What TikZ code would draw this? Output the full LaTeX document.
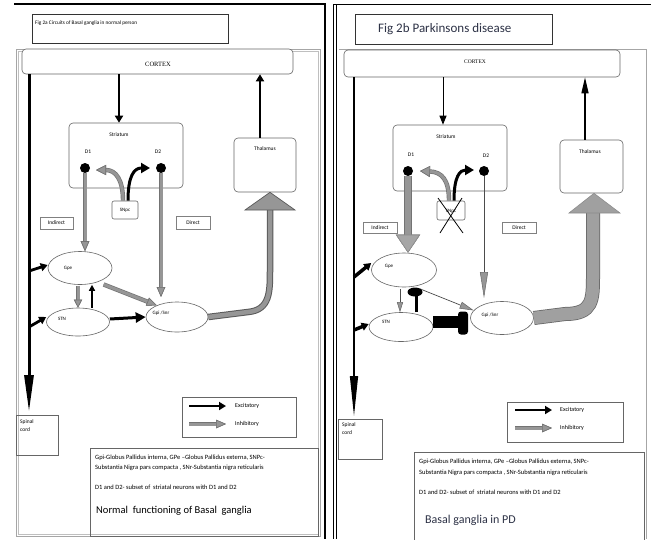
\documentclass[tikz,border=0pt]{standalone}
\usepackage{fontspec}
\setmainfont{Carlito}
\newfontfamily\serifc{Liberation Serif}
\usetikzlibrary{arrows.meta,shapes.geometric}
\definecolor{pdtext}{RGB}{45,50,70}
\definecolor{inhg}{RGB}{150,150,150}
\newcommand\fsz[1]{\fontsize{#1}{#1}\selectfont}
\begin{document}
\begin{tikzpicture}[x=1pt,y=-1pt,
  box/.style={draw=black!60, line width=0.6pt, rounded corners=4pt, inner sep=0pt},
  sbox/.style={draw=black!70, line width=0.6pt, inner sep=0pt},
  ell/.style={draw=black!60, ellipse, line width=0.6pt, inner sep=0pt},
  lab/.style={font=\fsz{5.5}, inner sep=0pt},
  dot/.style={circle, fill=black, minimum size=10pt, inner sep=0pt},
  exc/.style={black, line width=2.5pt, -{Triangle[length=7pt,width=8pt]}},
  inh/.style={inhg, line width=3pt, preaction={draw=black!55, line width=4.4pt},
     -{Triangle[length=10pt,width=8.5pt,color=black!55,fill=inhg,line width=0.6pt]}},
  thin/.style={black!70, line width=0.7pt, -{Triangle[length=26pt,width=8pt,color=black!60,fill=inhg,line width=0.5pt]}},
  txt/.style={font=\fsz{6.5}, anchor=west, inner sep=0pt}
]
\useasboundingbox (0,0) rectangle (651,539);
\fill[white] (0,0) rectangle (651,539);

% ================= LEFT PANEL =================
\draw[black, line width=2pt] (14,4) -- (326,4);
\draw[black, line width=2.5pt] (325,3) -- (325,539);
\draw[gray!70, line width=0.6pt] (16,49) rectangle (320,536);
\draw[gray!50, line width=0.5pt] (18.5,51) rectangle (318,534);
\node[sbox, minimum width=196pt, minimum height=29pt, draw=black!80, line width=0.9pt] (titleA) at (130,28.5) {};
\node[lab, anchor=west, font=\fsz{5.3}] (titleAt) at (35,23) {Fig 2a Circuits of Basal ganglia in normal person};

\node[box, fill=white, minimum width=271pt, minimum height=25pt] (cortexA) at (157.5,61.5) {};
\node[font=\serifc\fsz{6.5}, inner sep=0pt] (cortexAt) at (158,64) {CORTEX};

\node[box, minimum width=114pt, minimum height=65pt] (striatA) at (126,155.5) {};
\node[lab] (striatAt) at (119,135) {Striatum};
\node[box, minimum width=62pt, minimum height=54pt] (thalA) at (265,165) {};
\node[lab] (thalAt) at (265,149) {Thalamus};
\node[box, rounded corners=2pt, fill=white, minimum width=26pt, minimum height=18pt] (snpcA) at (125,210) {};
\node[lab, font=\fsz{5}] (snpcAt) at (125,210.5) {SNpc};
\node[sbox, draw=black!50, minimum width=33pt, minimum height=12pt, font=\fsz{5.5}] (indA) at (56.5,223) {Indirect};
\node[sbox, draw=black!50, minimum width=34pt, minimum height=13pt, font=\fsz{5.5}] (dirA) at (193,223) {Direct};

\node[dot] (d1A) at (85,168) {};
\node[dot] (d2A) at (161,168) {};
\node[lab] (d1At) at (88,152) {D1};
\node[lab] (d2At) at (158,152) {D2};

\node[ell, minimum width=64pt, minimum height=33pt] (gpeA) at (80,268) {};
\node[lab, font=\fsz{5}] (gpeAt) at (68,268) {Gpe};
\node[ell, minimum width=63pt, minimum height=28pt] (stnA) at (78,322) {};
\node[lab, font=\fsz{5}] (stnAt) at (62,319) {STN};
\node[ell, minimum width=62pt, minimum height=30pt] (gpiA) at (177,317) {};
\node[lab, font=\fsz{5}] (gpiAt) at (161,313) {Gpi /Snr};

\node[sbox, draw=black!60, minimum width=42pt, minimum height=40pt] (spinA) at (37,435) {};
\node[lab, anchor=north west, align=left, font=\fsz{5.5}] (spinAt) at (20,419) {Spinal\\[3pt]cord};

\node[sbox, draw=black!60, minimum width=114pt, minimum height=40pt] (legA) at (239,417) {};
\node[sbox, draw=black!60, minimum width=228pt, minimum height=88pt] (txtA) at (204,492) {};

% connectors left
\coordinate (spinTopA) at (29,412);
\draw[black, line width=3pt, -{Triangle[length=37pt,width=9pt]}] (cortexA.south -| 29,0) -- (spinTopA);
\draw[exc] (cortexA.south -| 119,0) -- (striatA.north -| 119,0);
\draw[exc] (thalA.north -| 260,0) -- (cortexA.south -| 260,0);
\draw[exc, line width=2.8pt] (gpeA.west -| 29,0) ++(0,3) -- ([yshift=3pt]gpeA.west);
\draw[exc, line width=2.8pt] (stnA.west -| 29,0) ++(0,5) -- ([yshift=5pt]stnA.west);
\draw[inh] (d1A.south) -- (gpeA.north -| d1A);
\draw[inh] (d2A.south) -- (161,297);
\draw[inh, -{Triangle[length=8pt,width=8pt,color=black!55,fill=inhg,line width=0.6pt]}] (gpeA.south -| 78,0) ++(0,1) -- (stnA.north -| 78,0);
\draw[black, line width=2pt, -{Triangle[length=6pt,width=6pt]}] (stnA.north -| 92,0) -- (gpeA.south -| 92,0);
\draw[inh] (gpeA.-30) ++(2,4) -- (gpiA.150);
\draw[exc, line width=3pt, -{Triangle[length=10pt,width=10pt]}] (stnA.east) ++(0,-3) -- (gpiA.west);
\draw[inh, -{Triangle[length=10pt,width=10pt,color=black!55,fill=inhg,line width=0.6pt]}] (snpcA.north) ++(-2,0) .. controls (123,180) and (116,170) .. (96,170);
\draw[exc, line width=3pt, -{Triangle[length=9pt,width=10pt]}] (snpcA.north) ++(3,0) .. controls (128,176) and (134,168) .. (150,168);
% Gpi -> thalamus
\coordinate (gtA) at (270,210);
\draw[black!65, line width=6.5pt] (gpiA.east) -- (248,312) .. controls (270,310) and (270,292) .. (270,270) -- (gtA);
\draw[inhg, line width=4.5pt] (gpiA.east) -- (248,312) .. controls (270,310) and (270,292) .. (270,270) -- (gtA);
\draw[black!65, fill=inhg, line width=0.7pt] (245,210) -- (295,210) -- (thalA.south -| 270,0) -- cycle;

% legend left
\draw[exc] (189,406) -- (226,406);
\draw[inh] (189,424) -- (226,424);
\node[txt, font=\fsz{6}] (excA) at (235,406) {Excitatory};
\node[txt, font=\fsz{6}] (inhA) at (235,424) {Inhibitory};
\node[txt] (t1A) at (95,458) {Gpi-Globus Pallidus interna, GPe –Globus Pallidus externa, SNPc-};
\node[txt] (t2A) at (95,468) {Substantia Nigra pars compacta , SNr-Substantia nigra reticularis};
\node[txt] (t3A) at (95,487) {D1 and D2- subset of\ \ striatal neurons with D1 and D2};
\node[txt, font=\fsz{10.5}] (t4A) at (96,511) {Normal\ \ functioning of Basal\ \ ganglia};

% ================= RIGHT PANEL =================
\draw[black, line width=0.8pt] (333,4) -- (651,4);
\draw[black, line width=0.8pt] (333,4) -- (333,539);
\draw[black, line width=0.8pt] (336,4) -- (336,539);
\draw[gray!70, line width=0.6pt] (338.5,49) -- (646,49) -- (646,539);
\node[sbox, draw=black!80, line width=1pt, minimum width=197pt, minimum height=30pt] (titleB) at (453.5,29) {};
\node[anchor=west, inner sep=0pt, font=\fsz{13}, text=pdtext] (titleBt) at (378,29) {Fig 2b Parkinsons disease};

\node[box, fill=white, minimum width=276pt, minimum height=27pt] (cortexB) at (482,63.5) {};
\node[font=\serifc\fsz{5.5}, inner sep=0pt] (cortexBt) at (475,62) {CORTEX};

\node[box, minimum width=114pt, minimum height=66pt] (striatB) at (450,158) {};
\node[lab] (striatBt) at (446,137) {Striatum};
\node[box, minimum width=63pt, minimum height=53pt] (thalB) at (591.5,166.5) {};
\node[lab] (thalBt) at (590,152) {Thalamus};
\node[box, rounded corners=2pt, fill=white, minimum width=28pt, minimum height=19pt] (snpcB) at (451,210.5) {};
\node[lab, font=\fsz{5}] (snpcBt) at (451,211) {SNpc};
\node[sbox, draw=black!50, minimum width=34pt, minimum height=11pt, font=\fsz{5.5}] (indB) at (380,227.5) {Indirect};
\node[sbox, draw=black!50, minimum width=34pt, minimum height=11pt, font=\fsz{5.5}] (dirB) at (519,227.5) {Direct};

\node[dot] (d1B) at (408,171) {};
\node[dot] (d2B) at (484,171) {};
\node[lab] (d1Bt) at (411,155) {D1};
\node[lab] (d2Bt) at (486,156) {D2};

\node[ell, minimum width=65pt, minimum height=34pt] (gpeB) at (404,270) {};
\node[lab, font=\fsz{5}] (gpeBt) at (389,266) {Gpe};
\node[ell, minimum width=64pt, minimum height=29pt] (stnB) at (401,327) {};
\node[lab, font=\fsz{5}] (stnBt) at (386,322) {STN};
\node[ell, minimum width=63pt, minimum height=33pt] (gpiB) at (502,318) {};
\node[lab, font=\fsz{5}] (gpiBt) at (490,315) {Gpi /Snr};

\node[sbox, draw=black!60, minimum width=44pt, minimum height=40pt] (spinB) at (360,439) {};
\node[lab, anchor=north west, align=left, font=\fsz{5.5}] (spinBt) at (342,422) {Spinal\\[3pt]cord};

\node[sbox, draw=black!60, minimum width=116pt, minimum height=40pt] (legB) at (565,422) {};
\node[sbox, draw=black!60, minimum width=230pt, minimum height=88pt] (txtB) at (529,496) {};

% connectors right
\coordinate (spinTopB) at (354,416);
\draw[black, line width=1.3pt, -{Triangle[length=40pt,width=8pt]}] (cortexB.south -| 354,0) -- (spinTopB);
\draw[black, line width=1pt, -{Triangle[length=9pt,width=7pt]}] (cortexB.south -| 443,0) -- (striatB.north -| 443,0);
\draw[black, line width=1.3pt, -{Triangle[length=16pt,width=7pt]}] (thalB.north -| 585,0) -- (cortexB.south -| 585,0);
\draw[exc, line width=3.5pt] (gpeB.west -| 354,0) ++(0,7) -- ([yshift=7pt]gpeB.west);
\draw[exc, line width=3.5pt] (stnB.west -| 354,0) ++(0,3) -- ([yshift=3pt]stnB.west);
% thick gray D1 -> Gpe
\draw[inh, line width=6pt, preaction={draw=black!55, line width=7.4pt},
  -{Triangle[length=18pt,width=24pt,color=black!45,fill=inhg!85,line width=0.6pt]}] (d1B.south) -- (gpeB.north -| d1B);
% thin D2 -> Gpi
\draw[thin] (d2B.south) -- (484,298);
\draw[thin, -{Triangle[length=10pt,width=6pt,color=black!60,fill=inhg,line width=0.5pt]}] (gpeB.south -| 400,0) ++(0,2) -- (stnB.north -| 400,0);
\draw[thin, -{Triangle[length=14pt,width=7pt,color=black!60,fill=inhg,line width=0.5pt]}] (gpeB.-40) ++(-2,4) -- (gpiB.165);
% STN -> Gpe blob
\draw[black, line width=3pt] (stnB.north -| 416,0) -- (416,295);
\node[ellipse, fill=black, minimum width=15pt, minimum height=9pt, inner sep=0pt] (blob1B) at (415,292) {};
% STN -> Gpi blob
\draw[black, line width=12pt] (stnB.east) ++(0,-5) -- (462,322);
\node[fill=black, rounded corners=3pt, minimum width=10pt, minimum height=23pt, inner sep=0pt] (blob2B) at (463,323) {};
% SNpc curves right
\draw[inh, -{Triangle[length=10pt,width=11pt,color=black!55,fill=inhg,line width=0.6pt]}] (snpcB.north) ++(-2,0) .. controls (449,180) and (442,172) .. (420,171);
\draw[exc, line width=3pt, -{Triangle[length=9pt,width=10pt]}] (snpcB.north) ++(3,0) .. controls (454,176) and (460,170) .. (474,170);
\draw[black, line width=0.8pt] (438,198) -- (463,233);
\draw[black, line width=0.8pt] (462,198) -- (440,233);
% Gpi -> thalamus thick
\coordinate (gtB) at (593,213);
\draw[black!60, line width=14pt] (gpiB.east) -- (565,314) .. controls (593,314) and (593,300) .. (593,275) -- (gtB);
\draw[inhg!90, line width=12.5pt] (gpiB.east) -- (565,314) .. controls (593,314) and (593,300) .. (593,275) -- (gtB);
\draw[black!45, fill=inhg!90, line width=0.6pt] (569,213) -- (620,213) -- (thalB.south -| 594,0) -- cycle;

% legend right
\draw[exc] (515,410) -- (552,410);
\draw[inh] (515,428) -- (552,428);
\node[txt, font=\fsz{6}] (excB) at (560,410) {Excitatory};
\node[txt, font=\fsz{6}] (inhB) at (560,428) {Inhibitory};
\node[txt] (t1B) at (419,462) {Gpi-Globus Pallidus interna, GPe –Globus Pallidus externa, SNPc-};
\node[txt] (t2B) at (419,473) {Substantia Nigra pars compacta , SNr-Substantia nigra reticularis};
\node[txt] (t3B) at (419,492) {D1 and D2- subset of\ \ striatal neurons with D1 and D2};
\node[txt, font=\fsz{12}, text=pdtext] (t4B) at (425,520) {Basal ganglia in PD};
\end{tikzpicture}
\end{document}
